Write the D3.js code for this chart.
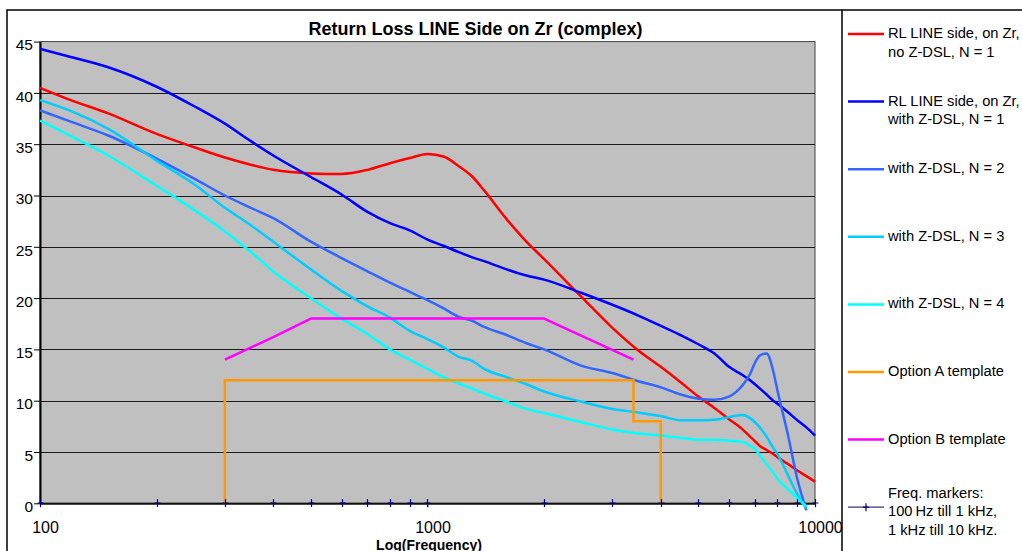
<!DOCTYPE html>
<html><head><meta charset="utf-8">
<script src="https://cdn.jsdelivr.net/npm/d3@7"></script>
<style>
body{margin:0;background:#fff;}
svg{display:block;font-family:"Liberation Sans",Arial,Helvetica,sans-serif;}
</style>
</head><body>
<svg id="chart" width="1022" height="551"></svg>
<script>
// ---------- data ----------
const chartTitle = "Return Loss LINE Side on Zr (complex)";
const xTitle = "Log(Frequency)";
const yTicks = [0,5,10,15,20,25,30,35,40,45];
const xTicks = [100,1000,10000];

const freqs = [100,120,150,200,250,300,350,400,500,600,700,800,900,1000,1100,1200,1300,1400,1600,1800,2000,2500,3000,3500,4000,4500,5000,5500,6000,6500,6800,7000,7200,7500,7800,8000,8500,9000,9500,10000];

const rlNoZdslN1 = [40.5,39.3,38.0,36.0,34.7,33.7,33.0,32.5,32.15,32.1,32.5,33.15,33.65,34.05,33.8,32.9,31.9,30.5,27.7,25.5,23.8,20.1,17.1,14.9,13.3,11.8,10.4,9.3,8.2,7.2,6.5,6.05,5.6,5.2,4.8,4.5,3.85,3.2,2.65,2.1];
const rlZdslN1   = [44.3,43.5,42.5,40.6,38.7,37.0,35.3,33.9,31.8,30.1,28.4,27.3,26.6,25.7,25.1,24.5,24.0,23.6,22.8,22.2,21.8,20.5,19.35,18.3,17.3,16.4,15.5,14.6,13.3,12.5,12.0,11.6,11.2,10.6,10.0,9.7,8.9,8.1,7.4,6.6];
const zdslN2     = [38.3,37.2,35.85,33.6,31.65,30.0,28.8,27.8,25.5,23.9,22.6,21.5,20.6,19.8,19.0,18.2,17.8,17.2,16.4,15.6,15.0,13.4,12.7,11.9,11.3,10.6,10.2,10.1,10.4,11.5,12.6,13.7,14.4,14.6,12.9,11.0,6.8,2.4,-0.7,null];
const zdslN3     = [39.3,38.25,36.5,33.4,31.1,28.8,27.1,25.5,22.8,20.7,19.2,18.1,16.8,16.0,15.2,14.3,13.9,13.1,12.3,11.6,10.9,9.9,9.2,8.85,8.5,8.1,8.1,8.15,8.4,8.6,8.3,7.9,7.4,6.5,5.4,4.8,2.8,0.9,-0.5,null];
const zdslN4     = [37.3,35.8,33.9,30.95,28.6,26.5,24.5,22.6,20.0,18.0,16.5,15.0,14.0,13.1,12.3,11.7,11.2,10.7,9.9,9.2,8.8,7.9,7.2,6.8,6.6,6.4,6.2,6.2,6.1,6.0,5.6,5.3,4.7,3.8,3.0,2.4,1.4,0.5,-0.3,null];

const optionAFreqs  = [300,300,3400,3400,4000,4000];
const optionAValues = [0,12,12,8,8,0];
const optionBFreqs  = [300,400,500,2000,3400];
const optionBValues = [14,16.2,18,18,14];

const markerFreqs  = [100,200,300,400,500,600,700,800,900,1000,2000,3000,4000,5000,6000,7000,8000,9000,10000];
const markerValues = [0,0,0,0,0,0,0,0,0,0,0,0,0,0,0,0,0,0,0];

const seriesNames = [
  ["RL LINE side, on Zr,","no Z-DSL, N = 1"],
  ["RL LINE side, on Zr,","with Z-DSL, N = 1"],
  ["with Z-DSL, N = 2"],
  ["with Z-DSL, N = 3"],
  ["with Z-DSL, N = 4"],
  ["Option A template"],
  ["Option B template"],
  ["Freq. markers:","100\u2009Hz till 1 kHz,","1 kHz till 10 kHz."]
];
const seriesColors = ["#FF0000","#0000FF","#3366FF","#00CCFF","#00FFFF","#FF9900","#FF00FF","#000080"];

// ---------- layout ----------
const svg = d3.select("#chart");
const plot = {left:40, right:815, top:41.6, bottom:503.3};
const x = d3.scaleLog().domain([100,10000]).range([plot.left, plot.right]);
const y = d3.scaleLinear().domain([0,45]).range([plot.bottom, plot.top]);

// outer frame
svg.append("path")
  .attr("d","M7,551 V10 H1022 M842,10 V551")
  .attr("fill","none").attr("stroke","#000").attr("stroke-width",1.5);

// plot area
svg.append("rect")
  .attr("x",plot.left).attr("y",plot.top)
  .attr("width",plot.right-plot.left).attr("height",plot.bottom-plot.top)
  .attr("fill","#C0C0C0").attr("stroke","#404040").attr("stroke-width",1);

// gridlines
svg.append("g").selectAll("line").data(yTicks.filter(d=>d>0 && d<45)).join("line")
  .attr("x1",plot.left).attr("x2",plot.right)
  .attr("y1",d=>Math.round(y(d))+0.5).attr("y2",d=>Math.round(y(d))+0.5)
  .attr("stroke","#1a1a1a").attr("stroke-width",1.1);

// y axis
const yAxis = svg.append("g").attr("transform",`translate(${plot.left},0)`)
  .call(d3.axisLeft(y).tickValues(yTicks).tickSize(6).tickPadding(1).tickSizeOuter(0));
yAxis.select(".domain").attr("stroke","#000").attr("stroke-width",2);
yAxis.selectAll(".tick line").attr("stroke","#000");
yAxis.selectAll("text").attr("font-size",15.5).attr("fill","#000")
  .attr("font-family","Liberation Sans, Arial, sans-serif")
  .attr("dy","0.53em");

// x axis
const xAxis = svg.append("g").attr("transform",`translate(0,${plot.bottom})`)
  .call(d3.axisBottom(x).tickValues(xTicks).tickFormat(d3.format("d")).tickSize(4).tickSizeOuter(0));
xAxis.select(".domain").attr("stroke","#111").attr("stroke-width",2);
xAxis.selectAll(".tick line").attr("stroke","#555");
xAxis.selectAll("text").attr("font-size",16).attr("fill","#000")
  .attr("font-family","Liberation Sans, Arial, sans-serif")
  .attr("y",30).attr("dy","0").attr("dx",5);

// titles
svg.append("text").attr("x",475.5).attr("y",35).attr("text-anchor","middle")
  .attr("font-size",18).attr("font-weight","bold").text(chartTitle);
svg.append("text").attr("x",429).attr("y",549.5).attr("text-anchor","middle")
  .attr("font-size",14).attr("font-weight","bold").text(xTitle);

// ---------- series ----------
const curveSeries = [rlNoZdslN1, rlZdslN1, zdslN2, zdslN3, zdslN4];
const smooth = d3.line().defined(d=>d[1]!==null).x(d=>x(d[0])).y(d=>y(d[1])).curve(d3.curveMonotoneX);
const straight = d3.line().x(d=>x(d[0])).y(d=>y(d[1]));

const gLines = svg.append("g").attr("fill","none").attr("stroke-width",2.5)
  .attr("stroke-linejoin","round").attr("stroke-linecap","butt");

curveSeries.forEach((vals,i)=>{
  gLines.append("path")
    .datum(freqs.map((f,j)=>[f,vals[j]]))
    .attr("d",smooth).attr("stroke",seriesColors[i]);
});
gLines.append("path")
  .datum(optionAFreqs.map((f,j)=>[f,optionAValues[j]]))
  .attr("d",straight).attr("stroke",seriesColors[5]).attr("stroke-linejoin","miter");
gLines.append("path")
  .datum(optionBFreqs.map((f,j)=>[f,optionBValues[j]]))
  .attr("d",straight).attr("stroke",seriesColors[6]);

// frequency markers (+)
const plus = (cx,cy,w,h)=>`M${cx-w/2},${cy}H${cx+w/2}M${cx},${cy-h/2}V${cy+h/2}`;
svg.append("g").selectAll("path").data(markerFreqs.map((f,j)=>[f,markerValues[j]])).join("path")
  .attr("d",d=>plus(Math.round(x(d[0]))+0.5,Math.round(y(d[1])),6,8))
  .attr("stroke",seriesColors[7]).attr("stroke-width",1.2).attr("fill","none");

// ---------- legend ----------
const legend = svg.append("g");
const keyX1 = 848, keyX2 = 884, textX = 888, firstKeyY = 34, step = 67.6, lineH = 18.5;
seriesNames.forEach((lines,i)=>{
  const ky = firstKeyY + i*step;
  const isMarker = i===7;
  legend.append("line").attr("x1",keyX1).attr("x2",keyX2).attr("y1",ky).attr("y2",ky)
    .attr("stroke",isMarker?"#3a3a6a":seriesColors[i]).attr("stroke-width",isMarker?1.2:2.5);
  if(isMarker){
    legend.append("path").attr("d",plus((keyX1+keyX2)/2,ky,6,8))
      .attr("stroke",seriesColors[7]).attr("stroke-width",1.2);
  }
  const base = ky + 4 - Math.max(0,lines.length-2)*13.6;
  lines.forEach((t,k)=>{
    legend.append("text").attr("x",textX).attr("y",base + k*lineH)
      .attr("font-size",14.7).attr("fill","#000").text(t);
  });
});
</script>
</body></html>
